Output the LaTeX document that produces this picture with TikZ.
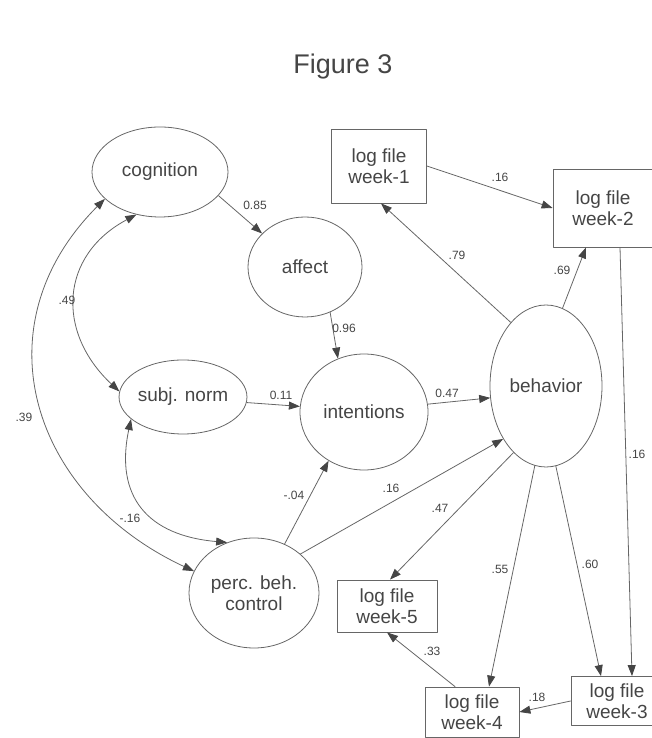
\documentclass[tikz,border=0pt]{standalone}
\usepackage{fontspec}
\setmainfont{Liberation Sans}
\usetikzlibrary{arrows.meta,shapes.geometric}
\definecolor{qqgray}{rgb}{0.4,0.4,0.4}
\definecolor{ttgray}{rgb}{0.27,0.27,0.27}

\begin{document}
\begin{tikzpicture}[line cap=round,line join=round,x=1pt,y=1pt,
	>={Triangle[length=11pt,width=8pt,color=ttgray]},
	every node/.style={text=ttgray},
	latent/.style={ellipse,draw=qqgray,line width=0.8pt,inner sep=0pt,align=center,font=\fontsize{19}{21.5}\selectfont},
	logbox/.style={rectangle,draw=qqgray,line width=0.8pt,inner sep=0pt,align=center,font=\fontsize{19}{21.5}\selectfont},
	arr/.style={->,draw=qqgray,line width=0.8pt},
	dbl/.style={<->,draw=qqgray,line width=0.8pt},
	wt/.style={inner sep=0pt,font=\fontsize{12}{14}\selectfont}]
		\useasboundingbox (0,0) rectangle (652,738);
		\clip (0,0) rectangle (652,738);
		\node[font=\fontsize{27}{30}\selectfont] (title) at (343,671) {Figure 3};
	% latent variables
		\node[latent,minimum width=136pt,minimum height=90pt] (cog) at (160,566) {cognition};
		\node[latent,minimum width=114pt,minimum height=100pt] (aff) at (305,471) {affect};
		\node[latent,minimum width=114pt,minimum height=74pt] (subj) at (183,341) {subj. norm};
		\node[latent,minimum width=128pt,minimum height=116pt] (intn) at (364,326) {intentions};
		\node[latent,minimum width=112pt,minimum height=162pt] (beh) at (546,352) {behavior};
		\node[latent,minimum width=130pt,minimum height=110pt] (perc) at (254,145) {perc. beh.\\control};
	% log files
		\node[logbox,minimum width=95pt,minimum height=74pt] (w1) at (379,572) {log file\\week-1};
		\node[logbox,minimum width=100pt,minimum height=78pt] (w2) at (603,530) {log file\\week-2};
		\node[logbox,minimum width=92pt,minimum height=49pt] (w3) at (617,37) {log file\\week-3};
		\node[logbox,minimum width=94pt,minimum height=50pt] (w4) at (472,26) {log file\\week-4};
		\node[logbox,minimum width=100pt,minimum height=52pt] (w5) at (387,132) {log file\\week-5};
	% paths
		\draw[arr] (cog.338) -- (aff.142);
		\draw[arr] (aff.299) -- (intn.116);
		\draw[arr] (subj.355) -- (intn.175);
		\draw[arr] (intn.7) -- (beh.192);
		\draw[arr] (perc.58) -- (intn.234);
		\draw[arr] (perc.40) -- (beh.231);
		\draw[arr] (beh.119) -- ([xshift=2pt]w1.south);
		\draw[arr] (beh.78) -- ([xshift=-17pt]w2.south);
		\draw[arr] (w1.east) -- (w2.west);
		\draw[arr] ([xshift=17pt]w2.south) -- ([xshift=15pt]w3.north);
		\draw[arr] (beh.277) -- ([xshift=-16pt]w3.north);
		\draw[arr] (beh.262) -- ([xshift=17pt]w4.north);
		\draw[arr] (beh.244) -- ([xshift=3pt]w5.north);
		\draw[arr] ([xshift=-17pt]w4.north) -- (w5.south);
		\draw[arr] (w3.west) -- (w4.east);
	% correlations
		\draw[dbl] (cog.241) to[out=208,in=137,looseness=1.25] (subj.175);
		\draw[dbl] (cog.206) to[out=225,in=155,looseness=1.2] (perc.160);
		\draw[dbl] (subj.203) to[out=258,in=175,looseness=1.3] (perc.118);
	% weights
		\node[wt] (wcogaff) at (255,533) {0.85};
		\node[wt] (waffint) at (344,410) {0.96};
		\node[wt] (wsubint) at (281,343) {0.11};
		\node[wt] (wintbeh) at (447,345) {0.47};
		\node[wt] (wbehw1) at (457,483) {.79};
		\node[wt] (wbehw2) at (562,468) {.69};
		\node[wt] (ww1w2) at (500,561) {.16};
		\node[wt] (ww2w3) at (637,284) {.16};
		\node[wt] (wperbeh) at (391,250) {.16};
		\node[wt] (wbehw5) at (440,230) {.47};
		\node[wt] (wbehw4) at (500,169) {.55};
		\node[wt] (wbehw3) at (590,174) {.60};
		\node[wt] (ww4w5) at (432,87) {.33};
		\node[wt] (ww3w4) at (537,41) {.18};
		\node[wt] (wperint) at (294,243) {-.04};
		\node[wt] (wsubper) at (130,220) {-.16};
		\node[wt] (wcogsub) at (67,438) {.49};
		\node[wt] (wcogper) at (24,321) {.39};
	\end{tikzpicture}
\end{document}
